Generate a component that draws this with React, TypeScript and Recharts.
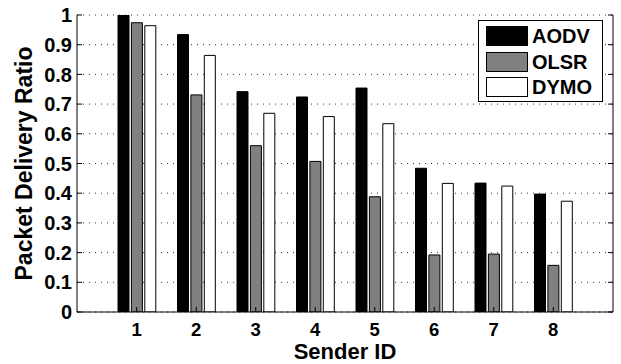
import {
  BarChart,
  Bar,
  XAxis,
  YAxis,
  CartesianGrid,
} from 'recharts';

const senderIds = ['1', '2', '3', '4', '5', '6', '7', '8'];
const aodv = [1.0, 0.934, 0.742, 0.724, 0.754, 0.484, 0.434, 0.397];
const olsr = [0.974, 0.731, 0.56, 0.507, 0.388, 0.192, 0.195, 0.157];
const dymo = [0.964, 0.864, 0.669, 0.658, 0.634, 0.433, 0.424, 0.373];
const yTicks = [0, 0.1, 0.2, 0.3, 0.4, 0.5, 0.6, 0.7, 0.8, 0.9, 1];

const series = [
  { key: 'AODV', fill: '#000000' },
  { key: 'OLSR', fill: '#808080' },
  { key: 'DYMO', fill: '#ffffff' },
];

const data = senderIds.map((id, i) => ({
  id,
  AODV: aodv[i],
  OLSR: olsr[i],
  DYMO: dymo[i],
}));

const FONT = '"Liberation Sans", Arial, Helvetica, sans-serif';

const tickStyle = { fill: '#000', fontFamily: FONT, fontWeight: 'bold' };

// legend box drawn over the plot, top right like the matlab figure
function LegendBox() {
  return (
    <div
      style={{
        position: 'absolute',
        left: 478,
        top: 20,
        width: 125,
        height: 82,
        boxSizing: 'border-box',
        border: '1.5px solid #000',
        background: '#fff',
        padding: '5px 0 0 7px',
        fontFamily: FONT,
      }}
    >
      {series.map((s) => (
        <div
          key={s.key}
          style={{ display: 'flex', alignItems: 'center', height: 20, marginBottom: 5.7 }}
        >
          <div
            style={{
              width: 42,
              height: 20,
              boxSizing: 'border-box',
              border: '1px solid #000',
              background: s.fill,
            }}
          />
          <span
            style={{
              marginLeft: 4,
              fontSize: 20,
              fontWeight: 'bold',
              lineHeight: '20px',
              color: '#000',
            }}
          >
            {s.key}
          </span>
        </div>
      ))}
    </div>
  );
}

export default function App() {
  return (
    <div style={{ position: 'absolute', left: 0, top: 0, width: 621, height: 364, background: '#fff' }}>
      <BarChart
        width={621}
        height={364}
        data={data}
        margin={{ top: 15, right: 0, bottom: 0, left: 0 }}
        barSize={11}
        barGap={2.4}
      >
        <CartesianGrid
          vertical={false}
          stroke="#333"
          strokeDasharray="1 5"
        />
        <XAxis
          dataKey="id"
          height={52}
          padding={{ left: 30, right: 30 }}
          axisLine={{ stroke: '#000' }}
          tickLine={{ stroke: '#000' }}
          tickSize={-5}
          tickMargin={16}
          tick={{ ...tickStyle, fontSize: 18.5 }}
          label={{
            content: (props: any) => {
              const vb = props.viewBox;
              return (
                <text
                  x={vb.x + vb.width / 2}
                  y={vb.y + 47}
                  textAnchor="middle"
                  fontFamily={FONT}
                  fontWeight="bold"
                  fontSize={22}
                  fill="#000"
                >
                  Sender ID
                </text>
              );
            },
          }}
        />
        <XAxis
          xAxisId="top"
          dataKey="id"
          orientation="top"
          height={0}
          padding={{ left: 30, right: 30 }}
          axisLine={{ stroke: '#000' }}
          tickLine={{ stroke: '#000' }}
          tickSize={-5}
          tickFormatter={() => ''}
        />
        <YAxis
          type="number"
          domain={[0, 1]}
          ticks={yTicks}
          interval={0}
          allowDataOverflow
          width={77}
          axisLine={{ stroke: '#000' }}
          tickLine={{ stroke: '#000' }}
          tickSize={-5}
          tickMargin={10}
          tick={{ ...tickStyle, fontSize: 20 }}
          tickFormatter={(v: number) => String(Number(v.toFixed(1)))}
          label={{
            content: (props: any) => {
              const vb = props.viewBox;
              const x = vb.x + 32;
              const y = vb.y + vb.height / 2;
              return (
                <text
                  x={x}
                  y={y}
                  transform={`rotate(-90, ${x}, ${y})`}
                  textAnchor="middle"
                  fontFamily={FONT}
                  fontWeight="bold"
                  fontSize={23}
                  fill="#000"
                >
                  Packet Delivery Ratio
                </text>
              );
            },
          }}
        />
        <YAxis
          yAxisId="right"
          orientation="right"
          type="number"
          domain={[0, 1]}
          ticks={yTicks}
          interval={0}
          allowDataOverflow
          width={8}
          axisLine={{ stroke: '#000' }}
          tickLine={{ stroke: '#000' }}
          tickSize={-5}
          tickFormatter={() => ''}
        />
        {series.map((s) => (
          <Bar
            key={s.key}
            dataKey={s.key}
            fill={s.fill}
            stroke="#000"
            strokeWidth={1}
            isAnimationActive={false}
          />
        ))}
      </BarChart>
      <LegendBox />
    </div>
  );
}
